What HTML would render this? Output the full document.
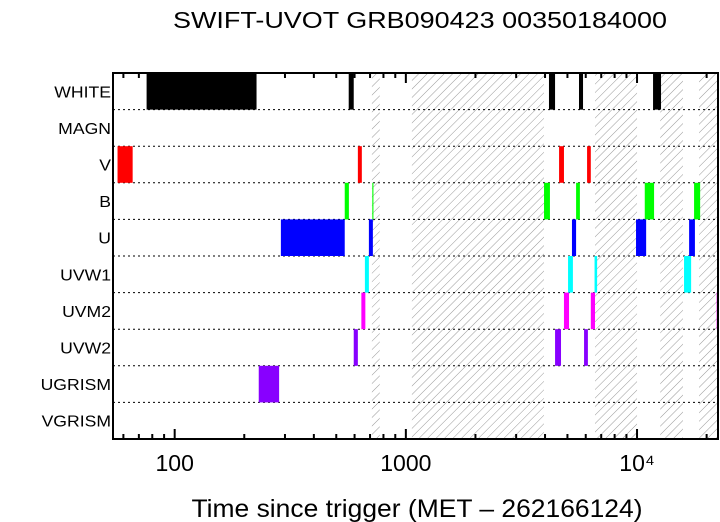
<!DOCTYPE html>
<html><head><meta charset="utf-8"><style>
body{margin:0;background:#fff;}
svg{display:block;font-family:"Liberation Sans",sans-serif;}
</style></head><body>
<svg id="c" width="720" height="522" viewBox="0 0 720 522">
<defs><pattern id="hatch" patternUnits="userSpaceOnUse" width="6" height="6" patternTransform="rotate(45)">
<line x1="0" y1="0" x2="0" y2="6" stroke="#999" stroke-width="1"/></pattern></defs>
<text x="420" y="28" font-size="23" text-anchor="middle" textLength="494" lengthAdjust="spacingAndGlyphs">SWIFT-UVOT GRB090423 00350184000</text>
<g id="plot"></g>
<text x="417" y="517" font-size="25" text-anchor="middle" textLength="451" lengthAdjust="spacingAndGlyphs">Time since trigger (MET – 262166124)</text>
</svg>
<script>
const filters = ["WHITE","MAGN","V","B","U","UVW1","UVM2","UVW2","UGRISM","VGRISM"];
const colors = ["#000","#000","#f00","#0f0","#00f","#0ff","#f0f","#80f","#80f","#000"];
const hatchStart = [713,1062,6580,12600,18550];
const hatchEnd = [771,3957,10000,15800,23000];
const whiteBars = [[75.6,226],[566,595],[4160,4420],[5610,5840],[11730,12700]];
const magnBars = [];
const vBars = [[56.6,65.8],[620,645],[4600,4830],[6080,6310]];
const bBars = [[544,567],[716,724],[3960,4200],[5450,5660],[10800,11850],[17650,18750]];
const uBars = [[288,544],[692,720],[5230,5450],[9900,10950],[16800,17800]];
const uvw1Bars = [[665,692],[5030,5280],[6550,6720],[15970,17140]];
const uvm2Bars = [[642,668],[4830,5080],[6310,6580],[22100,23000]];
const uvw2Bars = [[595,620],[4420,4690],[5900,6130]];
const ugrismBars = [[231,283]];
const vgrismBars = [];
const majorTicks = [100,1000,10000];
const tickLabels = ["100","1000","10⁴"];
const allBars=[whiteBars,magnBars,vBars,bBars,uBars,uvw1Bars,uvm2Bars,uvw2Bars,ugrismBars,vgrismBars];
const L=113,R=718,T=73,B=439;
const tMin=54.1,tMax=22400;
const xs=t=>L+(Math.log10(t)-Math.log10(tMin))/(Math.log10(tMax)-Math.log10(tMin))*(R-L);
const rh=(B-T)/filters.length;
const ys=i=>T+i*rh;
const NS="http://www.w3.org/2000/svg";
const g=document.getElementById('plot');
function mk(tag,at){const e=document.createElementNS(NS,tag);for(const k in at)e.setAttribute(k,at[k]);g.appendChild(e);return e;}
const cx=v=>Math.max(L,Math.min(R,xs(v)));
hatchStart.forEach((s,i)=>{const e=mk('rect',{x:cx(s),y:T,width:cx(hatchEnd[i])-cx(s),height:B-T,fill:'url(#hatch)'});

});
for(let i=1;i<filters.length;i++){const e=mk('line',{x1:L,x2:R,y1:ys(i),y2:ys(i),stroke:'#000','stroke-width':1,'stroke-dasharray':'2,3'});

}
allBars.forEach((bars,i)=>{bars.forEach(b=>{const x0=cx(b[0]),x1=cx(b[1]);
const e=mk('rect',{x:x0,y:ys(i),width:Math.max(1,x1-x0),height:rh,fill:colors[i]});

});
const t=mk('text',{x:111,y:ys(i)+rh/2+6,'font-size':16,'text-anchor':'end'});t.textContent=filters[i];


const w=t.getComputedTextLength();
t.setAttribute('textLength',w*1.1);
t.setAttribute('lengthAdjust','spacingAndGlyphs');});
for(let d=10;d<=10000;d*=10){for(let m=1;m<10;m++){const v=d*m;if(v<tMin||v>tMax)continue;const x=xs(v);const len=m===1?10:5;
mk('line',{x1:x,x2:x,y1:B,y2:B-len,stroke:'#000','stroke-width':2});
mk('line',{x1:x,x2:x,y1:T,y2:T+len,stroke:'#000','stroke-width':2});}}
majorTicks.forEach((v,i)=>{const t=mk('text',{x:xs(v),y:471,'font-size':23,'text-anchor':'middle'});t.textContent=tickLabels[i];

});
const fr=mk('rect',{x:L,y:T,width:R-L,height:B-T,fill:'none',stroke:'#000','stroke-width':2});


</script>
</body></html>
